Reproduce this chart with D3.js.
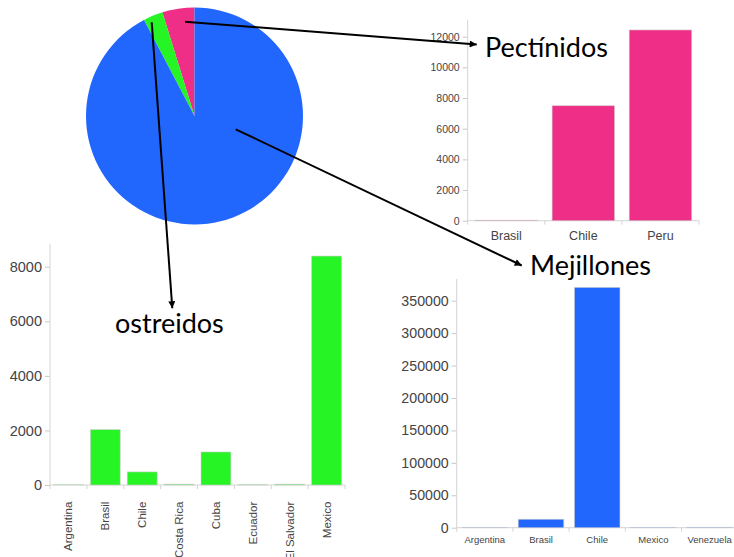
<!DOCTYPE html>
<html>
<head>
<meta charset="utf-8">
<script src="https://cdn.jsdelivr.net/npm/d3@7"></script>
<style>
  body { margin: 0; background: #fff; }
  text { font-family: "Liberation Sans", Arial, sans-serif; }
</style>
</head>
<body>
<div id="chart"></div>
<script>
const width = 734;
const height = 557;

// data
const groups = ["Pectínidos", "ostreidos", "Mejillones"];
const groupColors = ["#ef2e87", "#26f425", "#2167fe"];

const pectCountries = ["Brasil", "Chile", "Peru"];
const pectValues = [30, 7500, 12440];
const pectTicks = [0, 2000, 4000, 6000, 8000, 10000, 12000];

const ostrCountries = ["Argentina", "Brasil", "Chile", "Costa Rica", "Cuba", "Ecuador", "El Salvador", "Mexico"];
const ostrValues = [8, 2030, 480, 30, 1210, 10, 30, 8390];
const ostrTicks = [0, 2000, 4000, 6000, 8000];

const mejCountries = ["Argentina", "Brasil", "Chile", "Mexico", "Venezuela"];
const mejValues = [400, 13000, 370500, 500, 600];
const mejTicks = [0, 50000, 100000, 150000, 200000, 250000, 300000, 350000];

const svg = d3.select("#chart")
  .append("svg")
  .attr("width", width)
  .attr("height", height);

svg.append("defs").append("marker")
  .attr("id", "arrow")
  .attr("viewBox", "0 0 10 10")
  .attr("refX", 10)
  .attr("refY", 5)
  .attr("markerUnits", "userSpaceOnUse")
  .attr("markerWidth", 8)
  .attr("markerHeight", 7)
  .attr("orient", "auto")
  .append("path")
  .attr("d", "M0,0L10,5L0,10Z")
  .attr("fill", "#000");

// pie of totals
const totals = [d3.sum(pectValues), d3.sum(ostrValues), d3.sum(mejValues)];
const pie = d3.pie().sort(null).startAngle(0).endAngle(-2 * Math.PI);
const arc = d3.arc().innerRadius(0).outerRadius(108.5);

svg.append("g")
  .attr("transform", "translate(194.5,116)")
  .selectAll("path")
  .data(pie(totals))
  .join("path")
  .attr("d", arc)
  .attr("fill", (d, i) => groupColors[i]);

function barChart(c) {
  const g = svg.append("g");

  const x = d3.scaleBand()
    .domain(c.countries)
    .range([c.x0, c.x1])
    .paddingInner(0.19)
    .paddingOuter(0.095);

  const y = d3.scaleLinear()
    .domain([0, d3.max(c.ticks)])
    .range([c.yBase, c.yTickTop]);

  // y axis
  const yAxis = d3.axisLeft(y)
    .tickValues(c.ticks)
    .tickFormat(d3.format("d"))
    .tickSize(5)
    .tickPadding(3);
  const ya = g.append("g")
    .attr("transform", `translate(${c.x0},0)`)
    .call(yAxis);
  ya.select(".domain").remove();
  ya.selectAll("line").attr("stroke", "#c8c8c8");
  ya.selectAll("text")
    .attr("fill", "#444")
    .style("font-size", c.yFont + "px");
  g.append("line")
    .attr("x1", c.x0).attr("x2", c.x0)
    .attr("y1", c.yBase).attr("y2", c.axisTop)
    .attr("stroke", "#d4d4d4");

  // x axis line + boundary ticks
  g.append("line")
    .attr("x1", c.x0).attr("x2", c.x1)
    .attr("y1", c.yBase).attr("y2", c.yBase)
    .attr("stroke", "#d4d4d4");
  const gap = (x.step() - x.bandwidth()) / 2;
  g.selectAll(".bt")
    .data(c.countries.map(d => x(d) - gap).concat([c.x1]))
    .join("line")
    .attr("x1", d => d).attr("x2", d => d)
    .attr("y1", c.yBase).attr("y2", c.yBase + 4)
    .attr("stroke", "#d4d4d4");

  // bars
  g.selectAll("rect")
    .data(c.values)
    .join("rect")
    .attr("x", (d, i) => x(c.countries[i]))
    .attr("width", x.bandwidth())
    .attr("y", d => y(d))
    .attr("height", d => c.yBase - y(d))
    .attr("fill", c.color)
    .attr("stroke", "#cfcfcf")
    .attr("stroke-opacity", 0.7)
    .attr("stroke-width", 0.8);

  // x labels
  const xa = g.append("g")
    .attr("transform", `translate(0,${c.yBase})`)
    .call(d3.axisBottom(x).tickSize(0).tickPadding(c.labelPad));
  xa.select(".domain").remove();
  xa.selectAll("text")
    .attr("fill", "#444")
    .style("font-size", c.xFont + "px");
  if (c.rotate) {
    xa.selectAll("text")
      .attr("transform", "rotate(-90)")
      .attr("text-anchor", "end")
      .attr("x", -c.labelPad)
      .attr("y", 0)
      .attr("dy", "0.35em");
  }
}

barChart({
  countries: pectCountries, values: pectValues, ticks: pectTicks, color: groupColors[0],
  x0: 467.7, x1: 699, yBase: 220.7, yTickTop: 36.7, axisTop: 20,
  yFont: 10.5, xFont: 12.5, labelPad: 10
});

barChart({
  countries: ostrCountries, values: ostrValues, ticks: ostrTicks, color: groupColors[1],
  x0: 50, x1: 345, yBase: 485, yTickTop: 266.7, axisTop: 244,
  yFont: 14.5, xFont: 11.5, labelPad: 16.7, rotate: true
});

barChart({
  countries: mejCountries, values: mejValues, ticks: mejTicks, color: groupColors[2],
  x0: 456.7, x1: 737.7, yBase: 527.7, yTickTop: 300.7, axisTop: 279,
  yFont: 14.2, xFont: 9.5, labelPad: 9
});

// annotations
const notes = [
  { text: groups[0], tx: 485, ty: 56.7, from: [185, 21.7], to: [476.7, 44.5] },
  { text: groups[1], tx: 115, ty: 333.3, from: [151.7, 22.3], to: [172.3, 308.3] },
  { text: groups[2], tx: 530, ty: 275, from: [235.7, 129.3], to: [521.7, 265.5] }
];

svg.selectAll(".arrow")
  .data(notes)
  .join("line")
  .attr("x1", d => d.from[0]).attr("y1", d => d.from[1])
  .attr("x2", d => d.to[0]).attr("y2", d => d.to[1])
  .attr("stroke", "#000")
  .attr("stroke-width", 2)
  .attr("marker-end", "url(#arrow)");

svg.selectAll(".note")
  .data(notes)
  .join("text")
  .attr("x", d => d.tx)
  .attr("y", d => d.ty)
  .style("font-family", "Lato, 'Open Sans', sans-serif")
  .style("font-size", "27px")
  .attr("fill", "#000")
  .text(d => d.text);
</script>
</body>
</html>
